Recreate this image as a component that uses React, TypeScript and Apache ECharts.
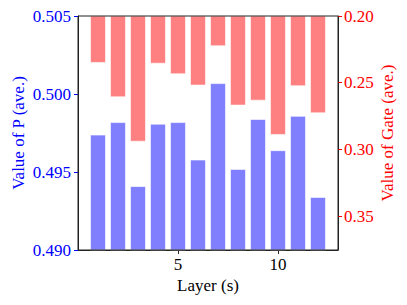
import React, { useEffect, useRef } from "react";
import * as echarts from "echarts";

const layers = [1, 2, 3, 4, 5, 6, 7, 8, 9, 10, 11, 12];
const pValues = [0.4974, 0.4982, 0.4941, 0.4981, 0.4982, 0.4958, 0.5007, 0.4952, 0.4984, 0.4964, 0.4986, 0.4934];
const gateValues = [0.2352, 0.261, 0.2943, 0.2358, 0.2437, 0.2522, 0.2227, 0.2672, 0.2635, 0.2892, 0.2527, 0.273];
const xTicks = [5, 10];
const pTicks = [0.49, 0.495, 0.5, 0.505];
const gateTicks = [0.2, 0.25, 0.3, 0.35];
const xName = "Layer (s)";
const pName = "Value of P (ave.)";
const gateName = "Value of Gate (ave.)";

const FONT = "'Liberation Serif', 'DejaVu Serif', serif";
const FS = 17;

export default function App() {
  const ref = useRef<HTMLDivElement>(null);
  useEffect(() => {
    if (!ref.current) return;
    const chart = echarts.init(ref.current, undefined, { renderer: "svg" });
    chart.setOption({
      animation: false,
      textStyle: { fontFamily: FONT, fontSize: FS },
      grid: {
        left: 78,
        right: 69,
        top: 16,
        bottom: 55,
        show: false,
      },
      xAxis: {
        type: "value",
        min: 0,
        max: 13,
        interval: 5,
        axisLine: { show: true, onZero: false, lineStyle: { color: "#222", width: 1 } },
        axisTick: { show: true, length: 4, customValues: xTicks, lineStyle: { color: "#222" } },
        axisLabel: { show: false },
        splitLine: { show: false },
      },
      yAxis: [
        {
          type: "value",
          position: "left",
          min: 0.49,
          max: 0.505,
          interval: 0.005,
          axisLine: { show: true, onZero: false, lineStyle: { color: "#222", width: 1 } },
          axisTick: { show: true, length: 4, customValues: pTicks, lineStyle: { color: "#0000ff" } },
          axisLabel: { show: false },
          splitLine: { show: false },
        },
        {
          type: "value",
          position: "right",
          inverse: true,
          min: 0.2,
          max: 0.3755,
          interval: 0.05,
          axisLine: { show: true, onZero: false, lineStyle: { color: "#222", width: 1 } },
          axisTick: { show: true, length: 4, customValues: gateTicks, lineStyle: { color: "#ff0000" } },
          axisLabel: { show: false },
          splitLine: { show: false },
        },
      ],
      series: [
        {
          type: "bar",
          name: "P",
          yAxisIndex: 0,
          data: layers.map((l, i) => [l, pValues[i]]),
          barWidth: "80%",
          barGap: "-100%",
          itemStyle: { color: "#8080ff", borderColor: "rgba(255,255,255,0.6)", borderWidth: 1 },
        },
        {
          type: "bar",
          name: "Gate",
          yAxisIndex: 1,
          data: layers.map((l, i) => [l, gateValues[i]]),
          barWidth: "80%",
          barGap: "-100%",
          itemStyle: { color: "#ff8080", borderColor: "rgba(255,255,255,0.6)", borderWidth: 1 },
        },
      ],
    });

    const px = (v: number) => chart.convertToPixel({ xAxisIndex: 0 }, v) as number;
    const pyP = (v: number) => chart.convertToPixel({ yAxisIndex: 0 }, v) as number;
    const pyG = (v: number) => chart.convertToPixel({ yAxisIndex: 1 }, v) as number;
    const left = px(0);
    const right = px(13);
    const top = pyP(0.505);
    const bottom = pyP(0.49);
    const midX = (left + right) / 2;
    const midY = (top + bottom) / 2;

    const txt = (
      text: string,
      x: number,
      y: number,
      fill: string,
      align: string,
      verticalAlign: string,
      rotation = 0
    ) => ({
      type: "text",
      x,
      y,
      rotation,
      silent: true,
      style: { text, fill, fontFamily: FONT, fontSize: FS, align, verticalAlign },
    });

    const graphics: any[] = [
      {
        type: "rect",
        z: 100,
        silent: true,
        shape: { x: left, y: top, width: right - left, height: bottom - top },
        style: { fill: "none", stroke: "#222", lineWidth: 1 },
      },
    ];
    xTicks.forEach((v) => graphics.push(txt(String(v), px(v), bottom + 6, "#000", "center", "top")));
    pTicks.forEach((v) => graphics.push(txt(v.toFixed(3), left - 7, pyP(v), "#0000ff", "right", "middle")));
    gateTicks.forEach((v) => graphics.push(txt(v.toFixed(2), right + 6, pyG(v), "#ff0000", "left", "middle")));
    graphics.push(txt(xName, midX, bottom + 35, "#000", "center", "middle"));
    graphics.push(txt(pName, 18, midY, "#0000ff", "center", "middle", Math.PI / 2));
    graphics.push(txt(gateName, 387, midY, "#ff0000", "center", "middle", Math.PI / 2));

    chart.setOption({ graphic: graphics });
    return () => chart.dispose();
  }, []);
  return (
    <div
      ref={ref}
      style={{ position: "fixed", left: 0, top: 0, width: 407, height: 305, background: "#fff" }}
    />
  );
}
